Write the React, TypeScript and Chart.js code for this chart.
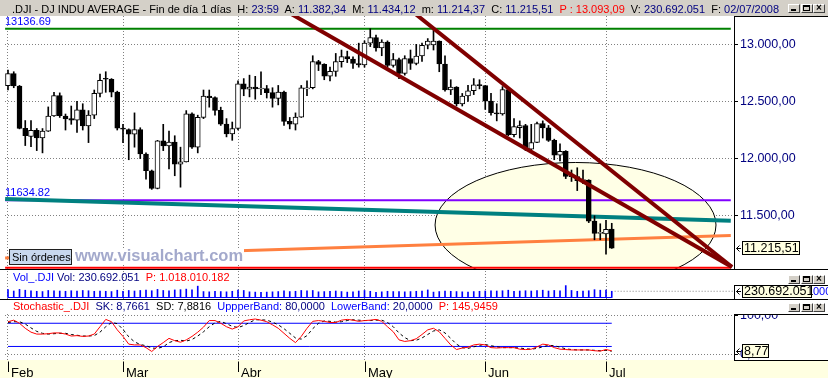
import React, { useEffect, useRef } from "react";
import { Chart, registerables } from "chart.js";

Chart.register(...registerables);

const FONT = '"Liberation Sans", Arial, Helvetica, sans-serif';

// ---------------- data ----------------
const monthLabels = ["Feb", "Mar", "Abr", "May", "Jun", "Jul"];
const monthStartIndex = [0, 20, 40, 62, 83, 104];

const openPrices = [
  12638, 12743, 12635, 12265, 12193, 12247, 12182, 12240, 12373, 12552, 12372, 12350, 12337, 12427, 12285, 12381, 12570, 12700, 12694, 12582,
  12266, 12254, 12213, 12254, 12040, 11894, 11740, 12156, 12110, 12145, 11951, 11972, 12392, 12099, 12361, 12548, 12533, 12422, 12302, 12216,
  12263, 12654, 12608, 12626, 12609, 12612, 12577, 12527, 12581, 12325, 12302, 12363, 12610, 12620, 12849, 12825, 12721, 12763, 12849, 12892, 12871, 12832,
  12820, 13010, 13058, 12969, 13020, 12815, 12867, 12745, 12876, 12832, 12898, 12992, 12995, 13028, 12828, 12601, 12625, 12479, 12548, 12594, 12646,
  12638, 12503, 12400, 12390, 12604, 12209, 12270, 12289, 12083, 12141, 12307, 12269, 12160, 12029, 12063, 11843, 11842, 11807, 11811, 11453, 11346,
  11340, 11382.34,
];
const highPrices = [
  12775, 12760, 12640, 12333, 12333, 12263, 12263, 12452, 12580, 12575, 12390, 12460, 12500, 12480, 12420, 12600, 12740, 12760, 12700, 12590,
  12300, 12260, 12400, 12270, 12050, 11900, 12160, 12300, 12240, 12200, 12100, 12420, 12400, 12380, 12600, 12600, 12540, 12450, 12350, 12320,
  12680, 12700, 12730, 12720, 12760, 12640, 12620, 12640, 12590, 12360, 12400, 12640, 12680, 12900, 12860, 12830, 12800, 12920, 12950, 12940, 12890, 13010,
  13030, 13136, 13080, 13040, 13030, 12920, 12880, 12900, 12950, 13000, 13010, 13050, 13136.69, 13030, 12900, 12690, 12630, 12570, 12640, 12700, 12690,
  12640, 12570, 12480, 12630, 12606, 12350, 12330, 12300, 12300, 12320, 12330, 12290, 12170, 12130, 12070, 11900, 11920, 11900, 11815, 11500, 11430,
  11460, 11434.12,
];
const lowPrices = [
  12600, 12620, 12260, 12114, 12105, 12070, 12050, 12237, 12370, 12360, 12250, 12300, 12229, 12250, 12140, 12350, 12540, 12580, 12540, 12250,
  12140, 11990, 12100, 12000, 11820, 11731, 11735, 12070, 11910, 11850, 11750, 11970, 12090, 12050, 12350, 12450, 12380, 12290, 12190, 12160,
  12250, 12550, 12540, 12520, 12560, 12530, 12450, 12470, 12290, 12260, 12250, 12360, 12550, 12610, 12770, 12690, 12680, 12720, 12800, 12840, 12790, 12800,
  12800, 12980, 12940, 12900, 12800, 12800, 12700, 12730, 12780, 12820, 12850, 12960, 12950, 12760, 12590, 12560, 12460, 12460, 12500, 12560, 12610,
  12430, 12380, 12330, 12380, 12200, 12190, 12180, 12070, 12060, 12140, 12180, 12150, 11990, 11980, 11825, 11800, 11720, 11780, 11440, 11290, 11290,
  11164, 11214.37,
];
const closePrices = [
  12743, 12635, 12265, 12200, 12247, 12182, 12240, 12373, 12552, 12376, 12348, 12337, 12427, 12285, 12381, 12570, 12684, 12694, 12582, 12266,
  12258, 12213, 12254, 12040, 11894, 11740, 12156, 12110, 12145, 11951, 11972, 12392, 12099, 12361, 12548, 12533, 12422, 12302, 12216, 12263,
  12654, 12608, 12626, 12609, 12612, 12577, 12527, 12581, 12325, 12302, 12363, 12619, 12620, 12849, 12825, 12721, 12763, 12849, 12892, 12871, 12832, 12820,
  13010, 13058, 12969, 13020, 12815, 12867, 12745, 12876, 12832, 12898, 12992, 13028, 13028, 12828, 12601, 12625, 12479, 12548, 12594, 12646, 12638,
  12503, 12402, 12390, 12604, 12209, 12280, 12289, 12083, 12141, 12307, 12269, 12160, 12029, 12063, 11843, 11842, 11807, 11811, 11453, 11346, 11350,
  11382, 11215.51,
];
// volume in millions of shares
const volumeMillions = [
  290, 240, 300, 270, 250, 230, 220, 260, 250, 240, 230, 250, 240, 260, 250, 230, 240, 230, 220, 270,
  230, 260, 240, 260, 270, 250, 300, 260, 250, 280, 290, 310, 280, 420, 220, 210, 230, 220, 210, 230,
  270, 260, 210, 200, 190, 200, 210, 220, 250, 220, 230, 260, 250, 260, 210, 220, 230, 240, 220, 200, 210, 240,
  260, 230, 190, 210, 230, 220, 220, 210, 220, 230, 240, 280, 200, 220, 240, 230, 220, 210, 200, 220, 230,
  240, 250, 240, 250, 270, 230, 240, 250, 240, 260, 270, 240, 260, 250, 440, 260, 230, 240, 250, 290, 270,
  270, 230.692051,
];
const stochK = [
  84, 88, 80, 67, 57, 52, 52, 53, 55, 55, 52, 47, 48, 46, 47, 52, 71, 90, 84, 63,
  46, 26, 24, 24, 17, 7, 20, 30, 41, 35, 31, 37, 46, 57, 70, 87, 87, 80, 71, 65,
  71, 86, 89, 91, 88, 84, 76, 67, 54, 41, 30, 46, 67, 85, 87, 85, 82, 82, 88, 90,
  88, 85, 87, 88, 90, 85, 71, 58, 37, 33, 35, 40, 51, 63, 67, 58, 41, 24, 12, 16,
  18, 24, 26, 24, 17, 16, 17, 17, 17, 13, 12, 13, 19, 26, 24, 17, 13, 12, 11, 11,
  11, 11, 9, 8, 12, 8.7661,
];
const stochD = [
  82, 84, 84, 78, 68, 59, 54, 52, 53, 54, 54, 51, 49, 47, 47, 48, 57, 71, 82, 79,
  64, 45, 32, 25, 22, 16, 15, 19, 30, 35, 36, 34, 38, 47, 58, 71, 81, 85, 79, 72,
  69, 74, 82, 89, 89, 88, 83, 76, 66, 54, 42, 39, 48, 66, 80, 86, 85, 83, 84, 87,
  89, 88, 87, 87, 88, 88, 82, 71, 55, 43, 35, 36, 42, 51, 60, 63, 55, 41, 26, 17,
  15, 19, 23, 25, 22, 19, 17, 17, 17, 16, 14, 13, 15, 19, 23, 22, 18, 14, 12, 11,
  11, 11, 10, 9, 10, 7.8816,
];
const stochUpperBand = 80;
const stochLowerBand = 20;
const stochPeriodText = "145,9459";
const volumePText = "1.018.010.182";
const previousText = "13.093,09";
const priceTicks = [11500, 12000, 12500, 13000];
const stochTicks = [0, 100];

// drawn study lines (index, price)
const lineFromIndex = -0.5;
const lineToIndex = 125.7;
const levelHigh = 13136.69;
const levelSupport = 11634.82;
const levelBottom = 11045.5;
const tealChannel = [11646.5, 11456.7];
const orangeChannel = [11130, 11328];
const trendLower = [
  [48, 13301.8],
  [125.91, 11051.6],
];
const trendUpper = [
  [70, 13300.1],
  [125.91, 11051.6],
];
const zone = { cx: 98.7, cy: 11419, rx: 24.43, ry: 547 };

// ---------------- scale extents ----------------
const X_MIN = -0.5217;
const X_MAX = 126.26;
const PRICE_MIN = 11034.1;
const PRICE_MAX = 13247.6;
const VOL_MIN = -55.5;
const VOL_MAX = 980.5;
const STOCH_MIN = -15.0;
const STOCH_MAX = 103.96;

function fmtNum(v: number, decimals: number): string {
  const s = Math.abs(v).toFixed(decimals);
  const [ip, fp] = s.split(".");
  const grouped = ip.replace(/\B(?=(\d{3})+(?!\d))/g, ".");
  return (v < 0 ? "-" : "") + grouped + (fp ? "," + fp : "");
}

const lastIdx = closePrices.length - 1;
const indices = closePrices.map((_, i) => i);

function zeroPad(s: any) {
  s.paddingTop = 0;
  s.paddingBottom = 0;
  s.paddingLeft = 0;
  s.paddingRight = 0;
}

function xScaleOpts(): any {
  return {
    type: "linear",
    min: X_MIN,
    max: X_MAX,
    offset: false,
    display: true,
    afterBuildTicks: (s: any) => {
      s.ticks = monthStartIndex.map((v) => ({ value: v }));
    },
    afterFit: (s: any) => {
      s.height = 0;
      zeroPad(s);
    },
    ticks: { display: false },
    grid: { color: "#808080", lineWidth: 1, drawTicks: false, offset: false },
    border: { display: false, dash: [1, 2] },
  };
}

function yRightOpts(min: number, max: number, ticks: number[]): any {
  return {
    type: "linear",
    position: "right",
    min,
    max,
    beginAtZero: false,
    afterBuildTicks: (s: any) => {
      s.ticks = ticks.map((v) => ({ value: v }));
    },
    afterFit: (s: any) => {
      s.width = 94;
      zeroPad(s);
    },
    ticks: {
      autoSkip: false,
      padding: 2,
      color: "#000080",
      font: { family: FONT, size: 12.5 },
      callback: (v: any) => fmtNum(Number(v), 2),
    },
    grid: {
      color: "#808080",
      lineWidth: 1,
      drawTicks: true,
      tickLength: 4,
      tickColor: "#000000",
      tickWidth: 1,
      tickBorderDash: [],
    },
    border: { display: true, color: "#000000", width: 1, dash: [1, 2] },
  };
}

function seg(x0: number, y0: number, x1: number, y1: number) {
  return [
    { x: x0, y: y0 },
    { x: x1, y: y1 },
  ];
}

function lineDs(data: any[], color: string, width: number, order: number, extra: any = {}): any {
  return {
    type: "line",
    data,
    borderColor: color,
    backgroundColor: color,
    borderWidth: width,
    pointRadius: 0,
    tension: 0,
    fill: false,
    order,
    clip: 0,
    ...extra,
  };
}

function drawValueBox(ctx: CanvasRenderingContext2D, text: string, left: number, cy: number, w: number, h: number) {
  const top = Math.round(cy - h / 2);
  ctx.fillStyle = "#ffffe1";
  ctx.fillRect(left, top, w, h);
  ctx.strokeStyle = "#000000";
  ctx.lineWidth = 1;
  ctx.setLineDash([]);
  ctx.strokeRect(left + 0.5, top + 0.5, w - 1, h - 1);
  ctx.fillStyle = "#000000";
  ctx.font = `12.5px ${FONT}`;
  ctx.textAlign = "left";
  ctx.textBaseline = "middle";
  ctx.fillText(text, left + 2, top + h / 2 + 0.5);
  const ay = Math.round(cy) + 0.5;
  ctx.beginPath();
  ctx.moveTo(left - 2.5, ay - 3);
  ctx.lineTo(left - 5.5, ay);
  ctx.lineTo(left - 2.5, ay + 3);
  ctx.moveTo(left - 5.5, ay);
  ctx.lineTo(left - 1, ay);
  ctx.stroke();
}

const baseOptions = (padding: any): any => ({
  responsive: false,
  animation: false,
  devicePixelRatio: 1,
  events: [],
  layout: { padding, autoPadding: false },
  plugins: { legend: { display: false }, tooltip: { enabled: false }, title: { display: false } },
});

function mainConfig(): any {
  const bodyColors = indices.map((i) => (closePrices[i] >= openPrices[i] ? "#ffffff" : "#000000"));
  const ellipsePlugin = {
    id: "zoneEllipse",
    beforeDatasetsDraw(chart: any) {
      const { ctx, chartArea: a, scales } = chart;
      const xs = scales.x;
      const ys = scales.y;
      const cx = xs.getPixelForValue(zone.cx);
      const cy = ys.getPixelForValue(zone.cy);
      const rx = Math.abs(xs.getPixelForValue(zone.cx + zone.rx) - cx);
      const ry = Math.abs(ys.getPixelForValue(zone.cy + zone.ry) - cy);
      ctx.save();
      ctx.beginPath();
      ctx.rect(a.left, a.top, a.right - a.left, a.bottom - a.top);
      ctx.clip();
      ctx.beginPath();
      ctx.ellipse(cx, cy, rx, ry, 0, 0, Math.PI * 2);
      ctx.fillStyle = "#ffffe6";
      ctx.fill();
      ctx.strokeStyle = "#000000";
      ctx.lineWidth = 1;
      ctx.stroke();
      ctx.restore();
    },
  };
  const labelsPlugin = {
    id: "mainLabels",
    afterDraw(chart: any) {
      const { ctx, scales } = chart;
      const ys = scales.y;
      ctx.save();
      ctx.font = `11px ${FONT}`;
      ctx.fillStyle = "#0000ff";
      ctx.textAlign = "left";
      ctx.textBaseline = "alphabetic";
      ctx.fillText(levelHigh.toFixed(2), 5, ys.getPixelForValue(levelHigh) - 4);
      ctx.fillText(levelSupport.toFixed(2), 5, ys.getPixelForValue(levelSupport) - 4);
      drawValueBox(ctx, fmtNum(closePrices[lastIdx], 2), 742, ys.getPixelForValue(closePrices[lastIdx]), 58, 14);
      ctx.restore();
    },
  };
  return {
    type: "line",
    data: {
      datasets: [
        lineDs(trendUpper.map(([x, y]) => ({ x, y })), "#800000", 4, 0),
        lineDs(trendLower.map(([x, y]) => ({ x, y })), "#800000", 4, 0),
        {
          type: "bar",
          data: indices.map((i) => ({ x: i, y: [openPrices[i], closePrices[i]] })),
          backgroundColor: bodyColors,
          borderColor: "#000000",
          borderWidth: 1,
          borderSkipped: false,
          barThickness: 5,
          minBarLength: 1,
          grouped: false,
          order: 1,
        },
        {
          type: "bar",
          data: indices.map((i) => ({ x: i, y: [lowPrices[i], highPrices[i]] })),
          backgroundColor: "#000000",
          borderWidth: 0,
          barThickness: 1,
          grouped: false,
          order: 2,
        },
        lineDs(seg(lineFromIndex, tealChannel[0], lineToIndex, tealChannel[1]), "#008080", 4, 3),
        lineDs(seg(lineFromIndex, orangeChannel[0], lineToIndex, orangeChannel[1]), "#ff8040", 3, 4),
        lineDs(seg(lineFromIndex, levelSupport, lineToIndex, levelSupport), "#8000ff", 2, 5),
        lineDs(seg(lineFromIndex, levelHigh, lineToIndex, levelHigh), "#008000", 2, 6),
        lineDs(seg(lineFromIndex, levelBottom, lineToIndex, levelBottom), "#ff0000", 2, 7),
      ],
    },
    options: {
      ...baseOptions({ left: 5, right: 0, top: 0, bottom: 0 }),
      scales: {
        x: xScaleOpts(),
        y: yRightOpts(PRICE_MIN, PRICE_MAX, priceTicks),
      },
    },
    plugins: [ellipsePlugin, labelsPlugin],
  };
}

function volumeConfig(): any {
  const lastVol = volumeMillions[lastIdx];
  const volPlugin = {
    id: "volLabels",
    afterDraw(chart: any) {
      const { ctx, scales } = chart;
      const ys = scales.y;
      ctx.save();
      ctx.font = `11px ${FONT}`;
      ctx.fillStyle = "#0000ff";
      ctx.textAlign = "left";
      ctx.textBaseline = "middle";
      ctx.fillText("000", 813, ys.getPixelForValue(lastVol) + 0.5);
      drawValueBox(ctx, fmtNum(lastVol * 1e6, 0), 742, ys.getPixelForValue(lastVol), 70, 13);
      ctx.restore();
    },
  };
  return {
    type: "line",
    data: {
      datasets: [
        {
          type: "bar",
          data: indices.map((i) => ({ x: i, y: volumeMillions[i] })),
          backgroundColor: "#0000ff",
          borderWidth: 0,
          barThickness: 1,
          grouped: false,
          order: 1,
        },
        lineDs(seg(0, 0, lastIdx, 0), "#0000ff", 1, 0),
        lineDs(seg(lastIdx + 0.5, lastVol, X_MAX, lastVol), "#808080", 1, 2, { borderDash: [1, 2] }),
      ],
    },
    options: {
      ...baseOptions({ left: 5, right: 94, top: 0, bottom: 0 }),
      scales: {
        x: xScaleOpts(),
        y: { type: "linear", display: false, min: VOL_MIN, max: VOL_MAX, beginAtZero: false },
      },
    },
    plugins: [volPlugin],
  };
}

function stochConfig(): any {
  const axisPlugin = {
    id: "stochAxis",
    afterDraw(chart: any) {
      const { ctx, scales, chartArea: a } = chart;
      const xs = scales.x;
      const ys = scales.y;
      ctx.save();
      ctx.fillStyle = "#ffffe1";
      ctx.fillRect(0, a.bottom, chart.width, chart.height - a.bottom);
      ctx.strokeStyle = "#000000";
      ctx.lineWidth = 1;
      ctx.setLineDash([]);
      ctx.beginPath();
      ctx.moveTo(734, a.bottom + 0.5);
      ctx.lineTo(chart.width, a.bottom + 0.5);
      ctx.stroke();
      ctx.font = `13px ${FONT}`;
      ctx.textAlign = "left";
      ctx.textBaseline = "alphabetic";
      monthStartIndex.forEach((m, k) => {
        const px = Math.round(xs.getPixelForValue(m)) + 0.5;
        ctx.beginPath();
        ctx.moveTo(px, a.bottom + 1.5);
        ctx.lineTo(px, a.bottom + 12);
        ctx.stroke();
        ctx.fillStyle = "#000000";
        ctx.fillText(monthLabels[k], px + 2.5, a.bottom + 16.5);
      });
      drawValueBox(ctx, fmtNum(stochK[lastIdx], 2), 742, ys.getPixelForValue(stochK[lastIdx]), 27, 14);
      ctx.restore();
    },
  };
  return {
    type: "line",
    data: {
      datasets: [
        lineDs(indices.map((i) => ({ x: i, y: stochK[i] })), "#ff0000", 1, 0),
        lineDs(indices.map((i) => ({ x: i, y: stochD[i] })), "#000000", 1, 1, { borderDash: [3, 3] }),
        lineDs(seg(0, stochUpperBand, lastIdx, stochUpperBand), "#0000ff", 1, 2),
        lineDs(seg(0, stochLowerBand, lastIdx, stochLowerBand), "#0000ff", 1, 3),
      ],
    },
    options: {
      ...baseOptions({ left: 5, right: 0, top: 0, bottom: 18 }),
      scales: {
        x: xScaleOpts(),
        y: yRightOpts(STOCH_MIN, STOCH_MAX, stochTicks),
      },
    },
    plugins: [axisPlugin],
  };
}

const NAVY = "#000080";

function T({ left, top, children, style }: any) {
  return (
    <div
      style={{
        position: "absolute",
        left,
        top,
        whiteSpace: "pre",
        font: `11px ${FONT}`,
        lineHeight: "11px",
        ...style,
      }}
    >
      {children}
    </div>
  );
}

function Line({ left, top, width, height, color = "#000" }: any) {
  return <div style={{ position: "absolute", left, top, width, height, background: color }} />;
}

function WinButtons({ top }: { top: number }) {
  const base: any = {
    position: "absolute",
    top,
    width: 12,
    height: 9,
    boxSizing: "border-box",
    background: "#d4d0c8",
    borderStyle: "solid",
    borderWidth: 1,
    borderColor: "#ffffff #404040 #404040 #ffffff",
  };
  return (
    <>
      <div style={{ ...base, left: 788 }}>
        <div style={{ position: "absolute", left: 2, top: 4, width: 5, height: 2, background: "#000" }} />
      </div>
      <div style={{ ...base, left: 800.5 }}>
        <div
          style={{
            position: "absolute",
            left: 1.5,
            top: 0,
            width: 7,
            height: 6,
            boxSizing: "border-box",
            borderStyle: "solid",
            borderColor: "#000",
            borderWidth: "2px 1px 1px 1px",
          }}
        />
      </div>
      <div style={{ ...base, left: 813 }}>
        <div
          style={{
            position: "absolute",
            left: 0,
            top: -3,
            width: 10,
            textAlign: "center",
            font: `bold 10px ${FONT}`,
            lineHeight: "12px",
            color: "#000",
          }}
        >
          ×
        </div>
      </div>
    </>
  );
}

export default function App() {
  const mainRef = useRef<HTMLCanvasElement>(null);
  const volRef = useRef<HTMLCanvasElement>(null);
  const stoRef = useRef<HTMLCanvasElement>(null);

  useEffect(() => {
    const charts: Chart[] = [];
    if (mainRef.current) charts.push(new Chart(mainRef.current, mainConfig()));
    if (volRef.current) charts.push(new Chart(volRef.current, volumeConfig()));
    if (stoRef.current) charts.push(new Chart(stoRef.current, stochConfig()));
    return () => charts.forEach((c) => c.destroy());
  }, []);

  const o = openPrices[lastIdx];
  const h = highPrices[lastIdx];
  const l = lowPrices[lastIdx];
  const c = closePrices[lastIdx];
  const v = volumeMillions[lastIdx] * 1e6;

  return (
    <div
      style={{
        position: "fixed",
        left: 0,
        top: 0,
        width: 828,
        height: 378,
        background: "#ffffff",
        overflow: "hidden",
        fontFamily: FONT,
      }}
    >
      <canvas ref={mainRef} width={828} height={253} style={{ position: "absolute", left: 0, top: 16, width: 828, height: 253 }} />
      <canvas ref={volRef} width={828} height={28} style={{ position: "absolute", left: 0, top: 271, width: 828, height: 28 }} />
      <canvas ref={stoRef} width={828} height={64} style={{ position: "absolute", left: 0, top: 314, width: 828, height: 64 }} />

      {/* title bar */}
      <div style={{ position: "absolute", left: 0, top: 0, width: 828, height: 16, background: "#d4d0c8" }} />
      <T left={12} top={4} style={{ color: "#000" }}>
        {".DJI - DJ INDU AVERAGE - Fin de día 1 días  H: "}
        <span style={{ color: NAVY }}>23:59</span>
        {"  A: "}
        <span style={{ color: NAVY }}>{fmtNum(o, 2)}</span>
        {"  M: "}
        <span style={{ color: NAVY }}>{fmtNum(h, 2)}</span>
        {"  m: "}
        <span style={{ color: NAVY }}>{fmtNum(l, 2)}</span>
        {"  C: "}
        <span style={{ color: NAVY }}>{fmtNum(c, 2)}</span>
        {"  "}
        <span style={{ color: "#ff0000" }}>{"P : " + previousText}</span>
        {"  V: "}
        <span style={{ color: NAVY }}>{fmtNum(v, 0)}</span>
        {"  F: "}
        <span style={{ color: NAVY }}>02/07/2008</span>
      </T>
      <WinButtons top={4} />

      {/* main panel frame */}
      <Line left={734} top={16} width={94} height={1} />
      <Line left={0} top={269} width={828} height={1} />

      {/* watermark and order box */}
      <div
        style={{
          position: "absolute",
          left: 72,
          top: 248,
          height: 15,
          paddingLeft: 3,
          paddingRight: 1,
          background: "#ffffff",
          color: "#a3a9cc",
          font: `bold 16.5px ${FONT}`,
          lineHeight: "15px",
          whiteSpace: "pre",
        }}
      >
        www.visualchart.com
      </div>
      <div
        style={{
          position: "absolute",
          left: 9,
          top: 249,
          width: 63,
          height: 16,
          boxSizing: "border-box",
          border: "1px solid #202020",
          background: "#c8d8ee",
          color: "#000",
          font: `11px ${FONT}`,
          lineHeight: "14px",
          paddingLeft: 2,
          whiteSpace: "pre",
        }}
      >
        Sin órdenes
      </div>

      {/* volume panel */}
      <T left={13} top={272}>
        <span style={{ color: "#0000ff" }}>Vol_.DJI</span>
        <span style={{ color: NAVY }}>{" Vol: " + fmtNum(v, 0)}</span>
        <span style={{ color: "#ff0000" }}>{"  P: " + volumePText}</span>
      </T>
      <WinButtons top={275} />
      <Line left={734} top={285} width={94} height={1} />
      <Line left={734} top={285} width={1} height={14} />
      <Line left={0} top={299} width={828} height={1} />

      {/* stochastic panel */}
      <T left={13} top={301}>
        <span style={{ color: "#ff0000" }}>Stochastic_.DJI</span>
        <span style={{ color: NAVY }}>{"  SK: " + fmtNum(stochK[lastIdx], 4)}</span>
        <span style={{ color: "#000" }}>{"  SD: " + fmtNum(stochD[lastIdx], 4)}</span>
        <span style={{ color: "#0000ff" }}>{"  UppperBand: "}</span>
        <span style={{ color: NAVY }}>{fmtNum(stochUpperBand, 4)}</span>
        <span style={{ color: "#0000ff" }}>{"  LowerBand: "}</span>
        <span style={{ color: NAVY }}>{fmtNum(stochLowerBand, 4)}</span>
        <span style={{ color: "#ff0000" }}>{"  P: " + stochPeriodText}</span>
      </T>
      <WinButtons top={303} />
      <Line left={734} top={314} width={94} height={1} />
    </div>
  );
}
